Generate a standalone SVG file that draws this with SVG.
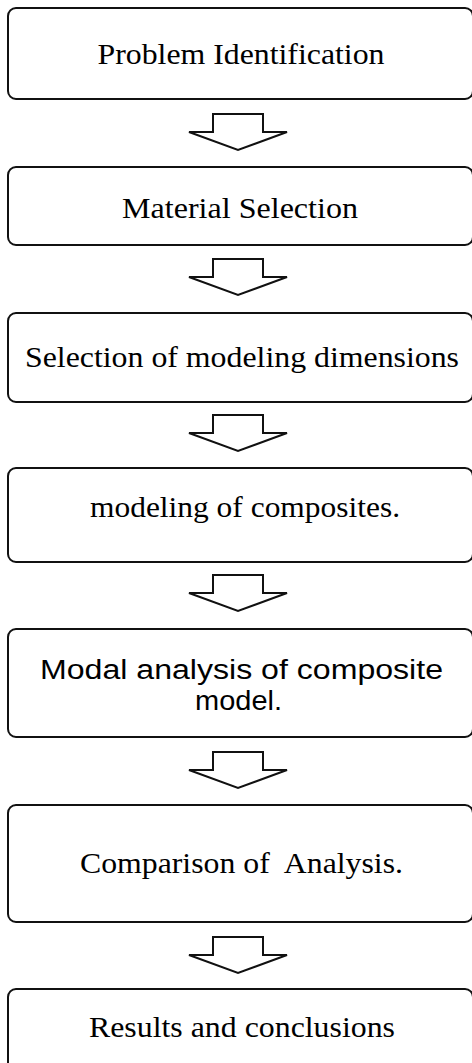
<svg xmlns="http://www.w3.org/2000/svg" width="472" height="1063" viewBox="0 0 472 1063">
  <style>
    .box { fill: #ffffff; stroke: #111111; stroke-width: 2; }
    .arrow { fill: #ffffff; stroke: #111111; stroke-width: 2; stroke-linejoin: miter; }
    .serif { font-family: "Liberation Serif", "Times New Roman", serif; font-size: 29px; fill: #000000; text-anchor: middle; }
    .sans { font-family: "Liberation Sans", Arial, sans-serif; font-size: 27px; fill: #000000; text-anchor: middle; }
  </style>
  <defs>
    <!-- block arrow pointing down, top of stem at y=0, tip at y=36 -->
    <path id="down" d="M213,0 H263 V18 H287 L238,36 L189,18 H213 Z"/>
  </defs>
  <rect width="472" height="1063" fill="#ffffff"/>

  <g id="connectors">
    <use href="#down" class="arrow" y="114"/>
    <use href="#down" class="arrow" y="259"/>
    <use href="#down" class="arrow" y="415"/>
    <use href="#down" class="arrow" y="575"/>
    <use href="#down" class="arrow" y="752"/>
    <use href="#down" class="arrow" y="937"/>
  </g>

  <g id="n1">
    <rect class="box" x="8" y="8" width="465" height="91" rx="8"/>
    <text class="serif" x="241" y="64" textLength="287" lengthAdjust="spacingAndGlyphs">Problem Identification</text>
  </g>
  <g id="n2">
    <rect class="box" x="8" y="167" width="465" height="78" rx="8"/>
    <text class="serif" x="240" y="218" textLength="236" lengthAdjust="spacingAndGlyphs">Material Selection</text>
  </g>
  <g id="n3">
    <rect class="box" x="8" y="313" width="465" height="89" rx="8"/>
    <text class="serif" x="242" y="367" textLength="434" lengthAdjust="spacingAndGlyphs">Selection of modeling dimensions</text>
  </g>
  <g id="n4">
    <rect class="box" x="8" y="468" width="465" height="94" rx="8"/>
    <text class="serif" x="245" y="517" textLength="310" lengthAdjust="spacingAndGlyphs">modeling of composites.</text>
  </g>
  <g id="n5">
    <rect class="box" x="8" y="629" width="465" height="108" rx="8"/>
    <text class="sans" x="241.5" y="679" textLength="403" lengthAdjust="spacingAndGlyphs">Modal analysis of composite</text>
    <text class="sans" x="238.5" y="709.5" textLength="87" lengthAdjust="spacingAndGlyphs">model.</text>
  </g>
  <g id="n6">
    <rect class="box" x="8" y="805" width="465" height="117" rx="8"/>
    <text class="serif" x="241.5" y="873" textLength="323" lengthAdjust="spacingAndGlyphs" xml:space="preserve">Comparison of  Analysis.</text>
  </g>
  <g id="n7">
    <rect class="box" x="8" y="989" width="465" height="90" rx="8"/>
    <text class="serif" x="242" y="1037" textLength="306" lengthAdjust="spacingAndGlyphs">Results and conclusions</text>
  </g>
</svg>
